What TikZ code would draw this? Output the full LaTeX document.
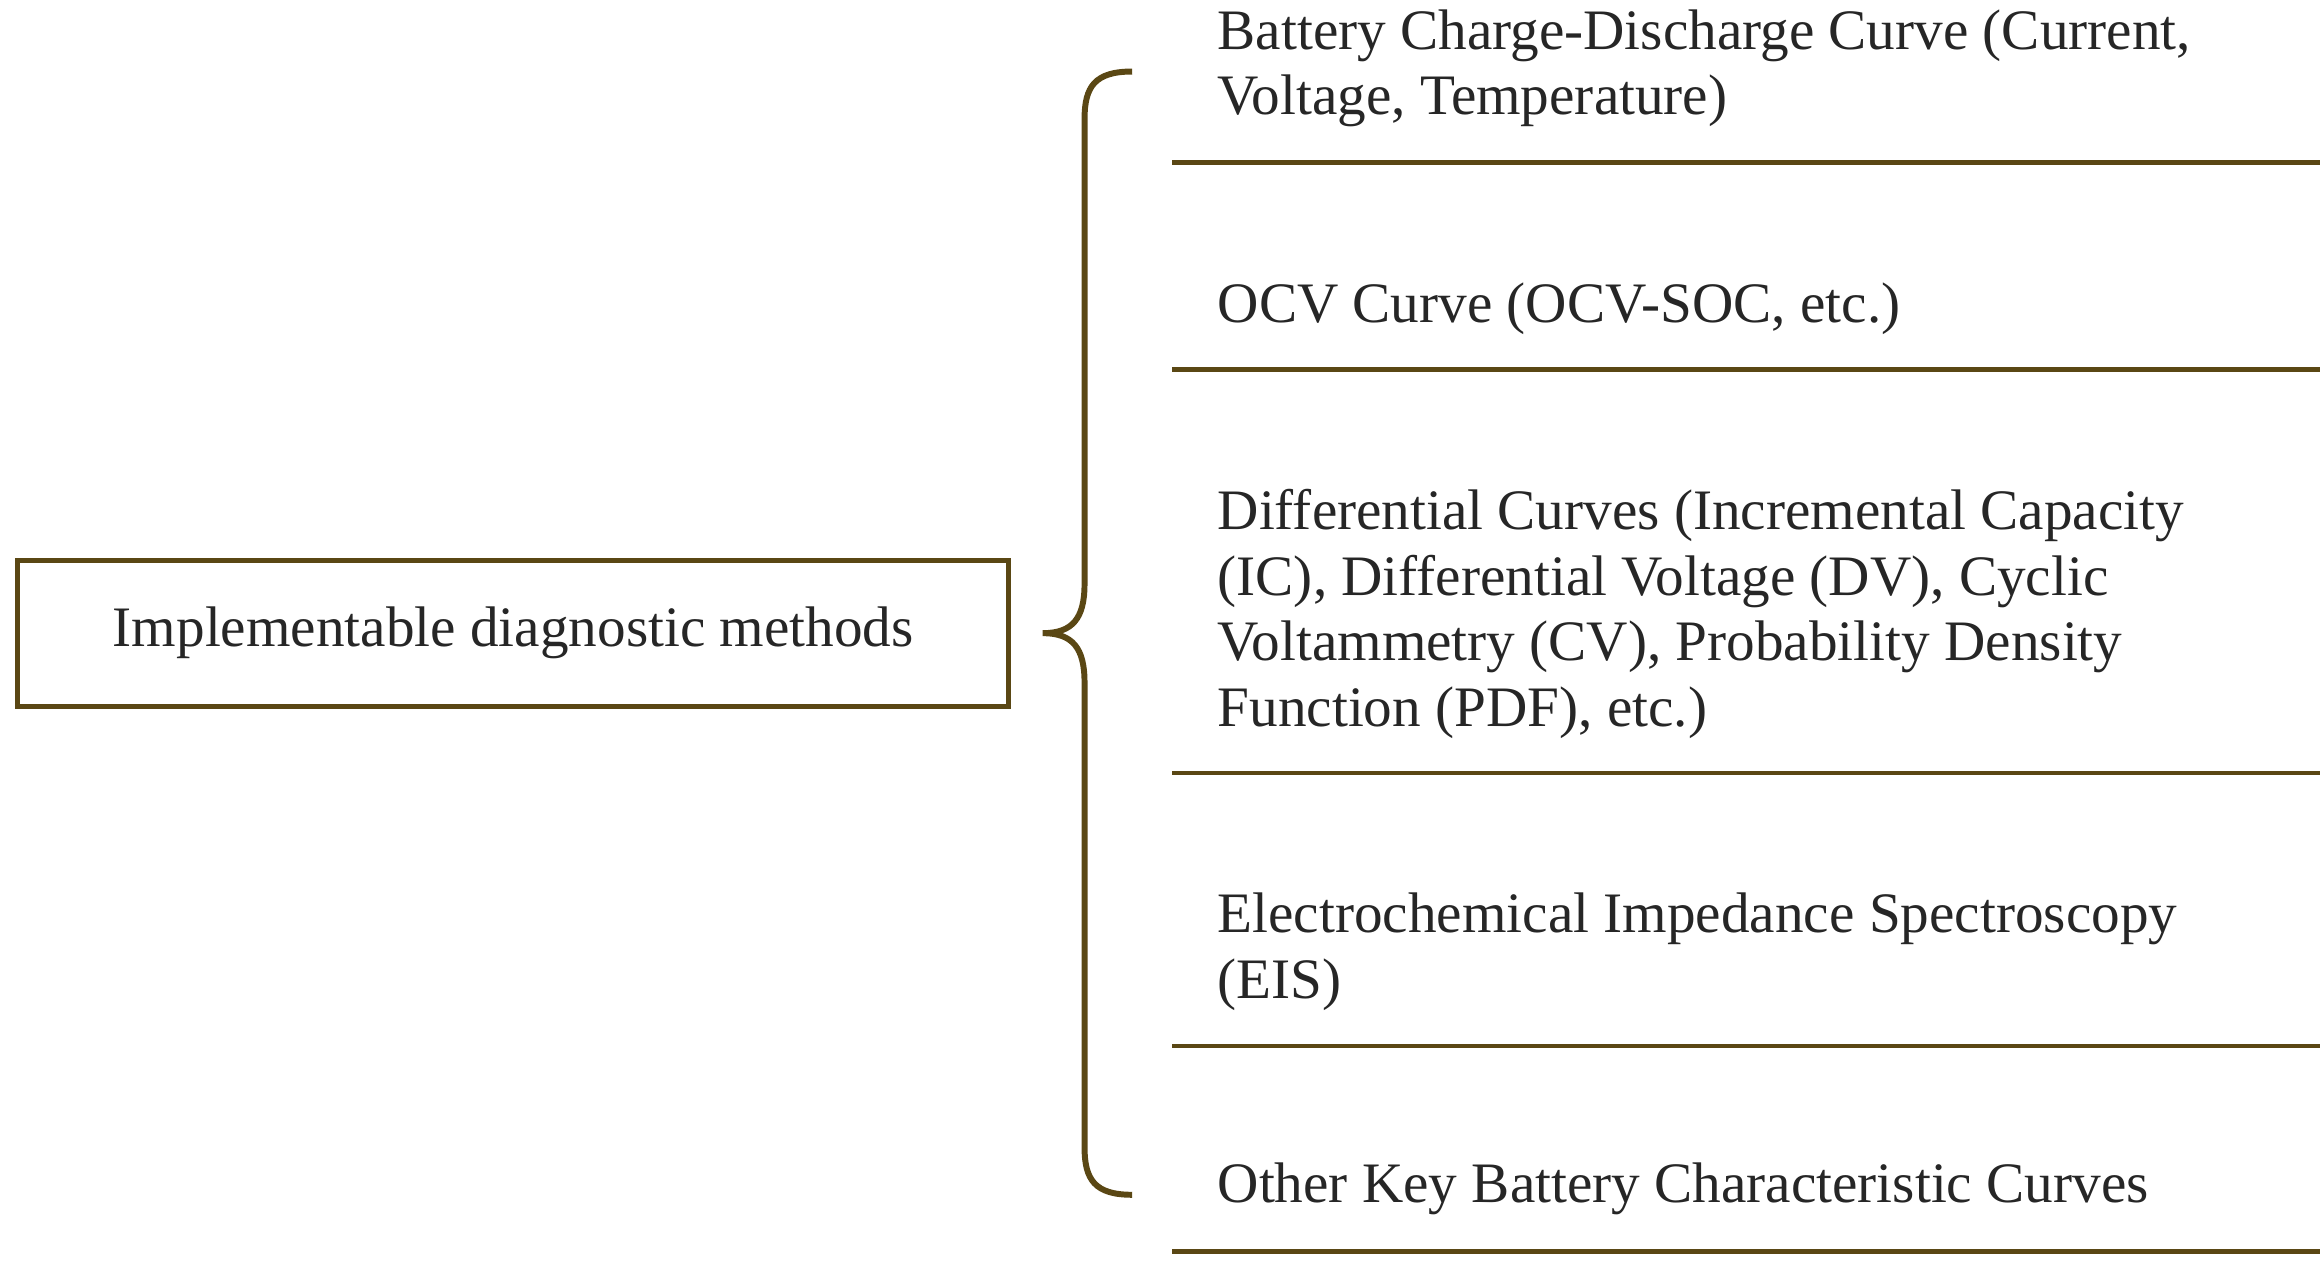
\documentclass[tikz,border=0pt]{standalone}
\usepackage{fontspec}
\setmainfont{Liberation Serif}
\begin{document}
\begin{tikzpicture}[x=0.5pt,y=-0.5pt,
  brn/.style={draw=ol,line width=1.6pt},
  item/.style={anchor=west,align=left,inner sep=0pt,font=\fontsize{19.2}{22}\selectfont,text=black!85},
  rule/.style={draw=ol,line width=1.5pt}]
\definecolor{ol}{HTML}{5A4714}
\useasboundingbox (0,0) rectangle (1560,848);
\node[brn,minimum width=665*0.5pt,minimum height=98*0.5pt,inner sep=0pt,font=\fontsize{19.2}{22}\selectfont,text=black!85] (box) at (344.5,425) {Implementable diagnostic methods};
\draw[brn,line width=2pt] (760,48) .. controls (735,48) and (728,58) .. (728,80) -- (728,392) .. controls (728,415) and (720,425) .. (700,425) .. controls (720,425) and (728,435) .. (728,458) -- (728,770) .. controls (728,792) and (735,802) .. (760,802);
\node[item] (i1) at (817,46) {Battery Charge-Discharge Curve (Current,\\Voltage, Temperature)};
\node[item] (i2) at (817,207) {OCV Curve (OCV-SOC, etc.)};
\node[item] (i3) at (817,412) {Differential Curves (Incremental Capacity\\(IC), Differential Voltage (DV), Cyclic\\Voltammetry (CV), Probability Density\\Function (PDF), etc.)};
\node[item] (i4) at (817,639) {Electrochemical Impedance Spectroscopy\\(EIS)};
\node[item] (i5) at (817,798) {Other Key Battery Characteristic Curves};
\foreach \y in {109,248,519,702,840} \draw[rule] (787,\y) -- (1557,\y);
\end{tikzpicture}
\end{document}
